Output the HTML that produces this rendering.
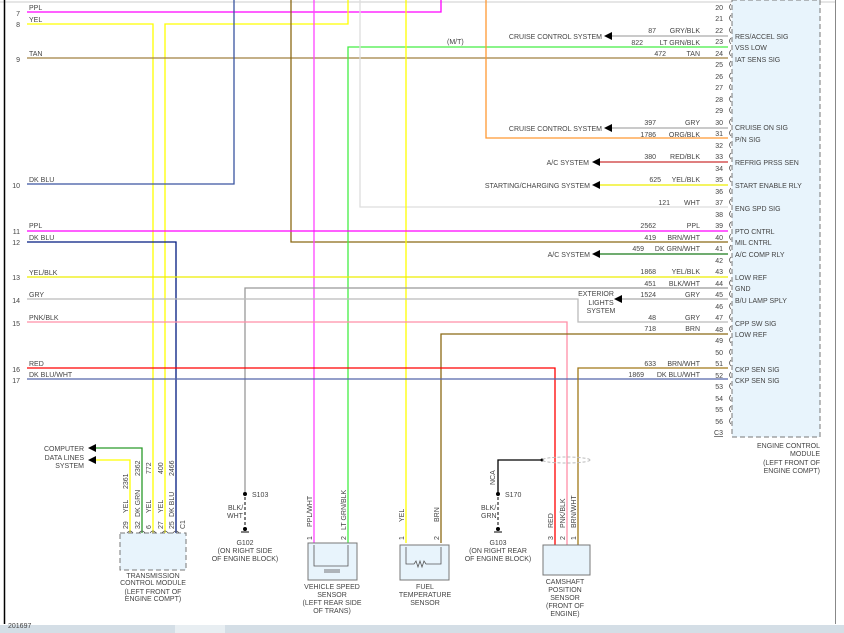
<!DOCTYPE html>
<html><head><meta charset="utf-8"><style>
html,body{margin:0;padding:0;background:#fff;}
svg{display:block;font-family:"Liberation Sans",sans-serif;}
text{font-size:7px;fill:#444;}
</style></head><body>
<svg width="844" height="633" viewBox="0 0 844 633" xmlns="http://www.w3.org/2000/svg">
<rect width="844" height="633" fill="#fff"/>
<line x1="0" y1="2" x2="835" y2="2" stroke="#ccc" stroke-width="1"/>
<line x1="4.5" y1="0" x2="4.5" y2="624" stroke="#000" stroke-width="1.5"/>
<line x1="835.5" y1="0" x2="835.5" y2="624" stroke="#888" stroke-width="1"/>
<rect x="0" y="625" width="844" height="8" fill="#d4dee6"/>
<rect x="175" y="625" width="50" height="8" fill="#e8eef2"/>
<text x="8" y="628">201697</text>

<rect x="732" y="0" width="88" height="437" fill="#e8f4fc" stroke="#777" stroke-dasharray="5,3"/>
<g fill="none" stroke-width="1.3">
<polyline points="27,12 441,12 441,0" stroke="#ff00ff"/>
<polyline points="27,24 153,24 153,545" stroke="#ffff00"/>
<polyline points="165,545 165,24 348,24 348,0" stroke="#ffff00"/>
<line x1="27" y1="58" x2="728" y2="58" stroke="#a08040"/>
<polyline points="234,0 234,184 27,184" stroke="#3a55a0"/>
<polyline points="291,0 291,242 728,242" stroke="#8b6914"/>
<line x1="314" y1="0" x2="314" y2="543" stroke="#ff44ff"/>
<polyline points="348,543 348,47 728,47" stroke="#44ee44"/>
<polyline points="360,0 360,207 728,207" stroke="#ddd"/>
<line x1="406" y1="0" x2="406" y2="543" stroke="#ffff00"/>
<polyline points="486,0 486,138 728,138" stroke="#ff9933"/>
<line x1="27" y1="231" x2="728" y2="231" stroke="#ff00ff"/>
<polyline points="27,242 176,242 176,545" stroke="#001a80"/>
<line x1="27" y1="277" x2="728" y2="277" stroke="#eeee00"/>
<polyline points="245,494 245,288 728,288" stroke="#999"/>
<polyline points="27,299 578,299 578,322 728,322" stroke="#bbb"/>
<polyline points="27,322 567,322 567,545" stroke="#ff8fa8"/>
<polyline points="728,334 441,334 441,543" stroke="#8b6914"/>
<polyline points="27,368 555,368 555,545" stroke="#ff0000"/>
<line x1="27" y1="379" x2="728" y2="379" stroke="#5566aa"/>
<polyline points="728,368 578,368 578,545" stroke="#a07818"/>
<line x1="612" y1="36" x2="728" y2="36" stroke="#aaa"/>
<line x1="612" y1="128" x2="728" y2="128" stroke="#aaa"/>
<line x1="600" y1="162" x2="728" y2="162" stroke="#cc3333"/>
<line x1="600" y1="185" x2="728" y2="185" stroke="#eeee00"/>
<line x1="600" y1="254" x2="728" y2="254" stroke="#1a7a1a"/>
<line x1="622" y1="299" x2="728" y2="299" stroke="#aaa"/>
<polyline points="142,545 142,448 96,448" stroke="#2a9a2a"/>
<polyline points="130,545 130,460 96,460" stroke="#ffff00"/>
<polyline points="498,494 498,460 542,460" stroke="#000"/>
</g>
<g fill="#000">
<polygon points="604,36 612,32 612,40"/>
<polygon points="604,128 612,124 612,132"/>
<polygon points="592,162 600,158 600,166"/>
<polygon points="592,185 600,181 600,189"/>
<polygon points="592,254 600,250 600,258"/>
<polygon points="614,299 622,295 622,303"/>
<polygon points="88,448 96,444 96,452"/>
<polygon points="88,460 96,456 96,464"/>
<circle cx="245" cy="494" r="2"/><circle cx="498" cy="494" r="2"/><circle cx="542" cy="460" r="1.5"/>
<circle cx="245" cy="529" r="2"/><circle cx="498" cy="529" r="2"/>
</g>
<g stroke="#000" stroke-dasharray="3,2" fill="none">
<line x1="245" y1="497" x2="245" y2="526"/><line x1="498" y1="497" x2="498" y2="526"/>
</g>
<g stroke="#000"><line x1="241" y1="532" x2="249" y2="532"/><line x1="494" y1="532" x2="502" y2="532"/></g>
<ellipse cx="566" cy="460" rx="24" ry="3" fill="none" stroke="#bbb" stroke-dasharray="3,2"/>

<g text-anchor="end">
<text x="20" y="16">7</text><text x="20" y="27">8</text><text x="20" y="62">9</text>
<text x="20" y="188">10</text><text x="20" y="234">11</text><text x="20" y="245">12</text>
<text x="20" y="280">13</text><text x="20" y="303">14</text><text x="20" y="326">15</text>
<text x="20" y="372">16</text><text x="20" y="383">17</text>
</g>
<text x="29" y="10">PPL</text><text x="29" y="22">YEL</text><text x="29" y="56">TAN</text>
<text x="29" y="182">DK BLU</text><text x="29" y="228">PPL</text><text x="29" y="240">DK BLU</text>
<text x="29" y="275">YEL/BLK</text><text x="29" y="297">GRY</text><text x="29" y="320">PNK/BLK</text>
<text x="29" y="366">RED</text><text x="29" y="377">DK BLU/WHT</text>
<text x="447" y="44">(M/T)</text>

<g text-anchor="end">
<text x="723" y="10">20</text><text x="723" y="21">21</text><text x="723" y="33">22</text><text x="723" y="44">23</text>
<text x="723" y="56">24</text><text x="723" y="67">25</text><text x="723" y="79">26</text><text x="723" y="90">27</text>
<text x="723" y="102">28</text><text x="723" y="113">29</text><text x="723" y="125">30</text><text x="723" y="136">31</text>
<text x="723" y="148">32</text><text x="723" y="159">33</text><text x="723" y="171">34</text><text x="723" y="182">35</text>
<text x="723" y="194">36</text><text x="723" y="205">37</text><text x="723" y="217">38</text><text x="723" y="228">39</text>
<text x="723" y="240">40</text><text x="723" y="251">41</text><text x="723" y="263">42</text><text x="723" y="274">43</text>
<text x="723" y="286">44</text><text x="723" y="297">45</text><text x="723" y="309">46</text><text x="723" y="320">47</text>
<text x="723" y="332">48</text><text x="723" y="343">49</text><text x="723" y="355">50</text><text x="723" y="366">51</text>
<text x="723" y="378">52</text><text x="723" y="389">53</text><text x="723" y="401">54</text><text x="723" y="412">55</text>
<text x="723" y="424">56</text><text x="723" y="435" text-decoration="underline">C3</text>
</g>
<g fill="none" stroke="#555" stroke-width="0.8">
<path d="M731,4 q-3,3 0,6 M731,15 q-3,3 0,6 M731,27 q-3,3 0,6 M731,38 q-3,3 0,6 M731,50 q-3,3 0,6 M731,61 q-3,3 0,6 M731,73 q-3,3 0,6 M731,84 q-3,3 0,6 M731,96 q-3,3 0,6 M731,107 q-3,3 0,6 M731,119 q-3,3 0,6 M731,130 q-3,3 0,6 M731,142 q-3,3 0,6 M731,153 q-3,3 0,6 M731,165 q-3,3 0,6 M731,176 q-3,3 0,6 M731,188 q-3,3 0,6 M731,199 q-3,3 0,6 M731,211 q-3,3 0,6 M731,222 q-3,3 0,6 M731,234 q-3,3 0,6 M731,245 q-3,3 0,6 M731,257 q-3,3 0,6 M731,268 q-3,3 0,6 M731,280 q-3,3 0,6 M731,291 q-3,3 0,6 M731,303 q-3,3 0,6 M731,314 q-3,3 0,6 M731,326 q-3,3 0,6 M731,337 q-3,3 0,6 M731,349 q-3,3 0,6 M731,360 q-3,3 0,6 M731,372 q-3,3 0,6 M731,383 q-3,3 0,6 M731,395 q-3,3 0,6 M731,406 q-3,3 0,6 M731,418 q-3,3 0,6"/>
</g>
<g>
<text x="735" y="39">RES/ACCEL SIG</text><text x="735" y="50">VSS LOW</text><text x="735" y="62">IAT SENS SIG</text>
<text x="735" y="130">CRUISE ON SIG</text><text x="735" y="142">P/N SIG</text><text x="735" y="165">REFRIG PRSS SEN</text>
<text x="735" y="188">START ENABLE RLY</text><text x="735" y="211">ENG SPD SIG</text><text x="735" y="234">PTO CNTRL</text>
<text x="735" y="245">MIL CNTRL</text><text x="735" y="257">A/C COMP RLY</text><text x="735" y="280">LOW REF</text>
<text x="735" y="291">GND</text><text x="735" y="303">B/U LAMP SPLY</text><text x="735" y="326">CPP SW SIG</text>
<text x="735" y="337">LOW REF</text><text x="735" y="372">CKP SEN SIG</text><text x="735" y="383">CKP SEN SIG</text>
</g>
<g text-anchor="end">
<text x="820" y="448">ENGINE CONTROL</text><text x="820" y="456">MODULE</text>
<text x="820" y="465">(LEFT FRONT OF</text><text x="820" y="473">ENGINE COMPT)</text>
</g>
<g text-anchor="end">
<text x="656" y="33">87</text><text x="700" y="33">GRY/BLK</text>
<text x="643" y="45">822</text><text x="700" y="45">LT GRN/BLK</text>
<text x="666" y="56">472</text><text x="700" y="56">TAN</text>
<text x="656" y="125">397</text><text x="700" y="125">GRY</text>
<text x="656" y="137">1786</text><text x="700" y="137">ORG/BLK</text>
<text x="656" y="159">380</text><text x="700" y="159">RED/BLK</text>
<text x="661" y="182">625</text><text x="700" y="182">YEL/BLK</text>
<text x="670" y="205">121</text><text x="700" y="205">WHT</text>
<text x="656" y="228">2562</text><text x="700" y="228">PPL</text>
<text x="656" y="240">419</text><text x="700" y="240">BRN/WHT</text>
<text x="644" y="251">459</text><text x="700" y="251">DK GRN/WHT</text>
<text x="656" y="274">1868</text><text x="700" y="274">YEL/BLK</text>
<text x="656" y="286">451</text><text x="700" y="286">BLK/WHT</text>
<text x="656" y="297">1524</text><text x="700" y="297">GRY</text>
<text x="656" y="320">48</text><text x="700" y="320">GRY</text>
<text x="656" y="331">718</text><text x="700" y="331">BRN</text>
<text x="656" y="366">633</text><text x="700" y="366">BRN/WHT</text>
<text x="644" y="377">1869</text><text x="700" y="377">DK BLU/WHT</text>
<text x="602" y="39">CRUISE CONTROL SYSTEM</text>
<text x="602" y="131">CRUISE CONTROL SYSTEM</text>
<text x="589" y="165">A/C SYSTEM</text>
<text x="590" y="188">STARTING/CHARGING SYSTEM</text>
<text x="590" y="257">A/C SYSTEM</text>
<text x="84" y="451">COMPUTER</text><text x="84" y="460">DATA LINES</text><text x="84" y="468">SYSTEM</text>
</g>
<g text-anchor="middle">
<text x="596" y="296">EXTERIOR</text><text x="601" y="305">LIGHTS</text><text x="601" y="313">SYSTEM</text>
</g>
<rect x="120" y="533" width="66" height="37" fill="#e8f4fc" stroke="#777" stroke-dasharray="5,3"/>
<g fill="none" stroke="#555" stroke-width="0.8"><path d="M127,533 q3,-4 6,0 M139,533 q3,-4 6,0 M150,533 q3,-4 6,0 M162,533 q3,-4 6,0 M173,533 q3,-4 6,0"/></g>
<g>
<text transform="translate(128,529) rotate(-90)">29</text><text transform="translate(140,529) rotate(-90)">32</text>
<text transform="translate(151,529) rotate(-90)">6</text><text transform="translate(163,529) rotate(-90)">27</text>
<text transform="translate(174,529) rotate(-90)">25</text><text transform="translate(185,529) rotate(-90)">C1</text>
<text transform="translate(128,513) rotate(-90)">YEL</text><text transform="translate(128,489) rotate(-90)">2361</text>
<text transform="translate(140,517) rotate(-90)">DK GRN</text><text transform="translate(140,476) rotate(-90)">2362</text>
<text transform="translate(151,513) rotate(-90)">YEL</text><text transform="translate(151,474) rotate(-90)">772</text>
<text transform="translate(163,513) rotate(-90)">YEL</text><text transform="translate(163,474) rotate(-90)">400</text>
<text transform="translate(174,517) rotate(-90)">DK BLU</text><text transform="translate(174,476) rotate(-90)">2466</text>
</g>
<g text-anchor="middle">
<text x="153" y="578">TRANSMISSION</text><text x="153" y="585">CONTROL MODULE</text>
<text x="153" y="594">(LEFT FRONT OF</text><text x="153" y="601">ENGINE COMPT)</text>
<text x="245" y="545">G102</text><text x="245" y="553">(ON RIGHT SIDE</text><text x="245" y="561">OF ENGINE BLOCK)</text>
<text x="498" y="545">G103</text><text x="498" y="553">(ON RIGHT REAR</text><text x="498" y="561">OF ENGINE BLOCK)</text>
<text x="332" y="589">VEHICLE SPEED</text><text x="332" y="597">SENSOR</text><text x="332" y="605">(LEFT REAR SIDE</text><text x="332" y="613">OF TRANS)</text>
<text x="425" y="589">FUEL</text><text x="425" y="597">TEMPERATURE</text><text x="425" y="605">SENSOR</text>
<text x="565" y="584">CAMSHAFT</text><text x="565" y="592">POSITION</text><text x="565" y="600">SENSOR</text><text x="565" y="608">(FRONT OF</text><text x="565" y="616">ENGINE)</text>
</g>
<text x="252" y="497">S103</text><text x="505" y="497">S170</text>
<text x="228" y="510">BLK/</text><text x="227" y="518">WHT</text>
<text x="481" y="510">BLK/</text><text x="481" y="518">GRN</text>
<text transform="translate(495,485) rotate(-90)">NCA</text>
<rect x="308" y="543" width="49" height="37" fill="#e8f4fc" stroke="#777"/>
<polyline points="314,545 314,566 348,566 348,545" fill="none" stroke="#555" stroke-width="0.8"/>
<line x1="324" y1="570" x2="340" y2="570" stroke="#555" stroke-width="0.8"/><line x1="324" y1="572" x2="340" y2="572" stroke="#555" stroke-width="0.8"/>
<text transform="translate(312,540) rotate(-90)">1</text><text transform="translate(346,540) rotate(-90)">2</text>
<text transform="translate(312,527) rotate(-90)">PPL/WHT</text><text transform="translate(346,530) rotate(-90)">LT GRN/BLK</text>
<rect x="400" y="545" width="49" height="35" fill="#e8f4fc" stroke="#777"/>
<polyline points="406,547 406,564 414,564 416,561 418,567 420,561 422,567 424,561 426,564 441,564 441,547" fill="none" stroke="#555" stroke-width="0.8"/>
<text transform="translate(404,540) rotate(-90)">1</text><text transform="translate(439,540) rotate(-90)">2</text>
<text transform="translate(404,522) rotate(-90)">YEL</text><text transform="translate(439,522) rotate(-90)">BRN</text>
<rect x="543" y="545" width="47" height="30" fill="#e8f4fc" stroke="#777"/>
<text transform="translate(553,540) rotate(-90)">3</text><text transform="translate(565,540) rotate(-90)">2</text><text transform="translate(576,540) rotate(-90)">1</text>
<text transform="translate(553,528) rotate(-90)">RED</text><text transform="translate(565,528) rotate(-90)">PNK/BLK</text><text transform="translate(576,528) rotate(-90)">BRN/WHT</text>
</svg>
</body></html>
